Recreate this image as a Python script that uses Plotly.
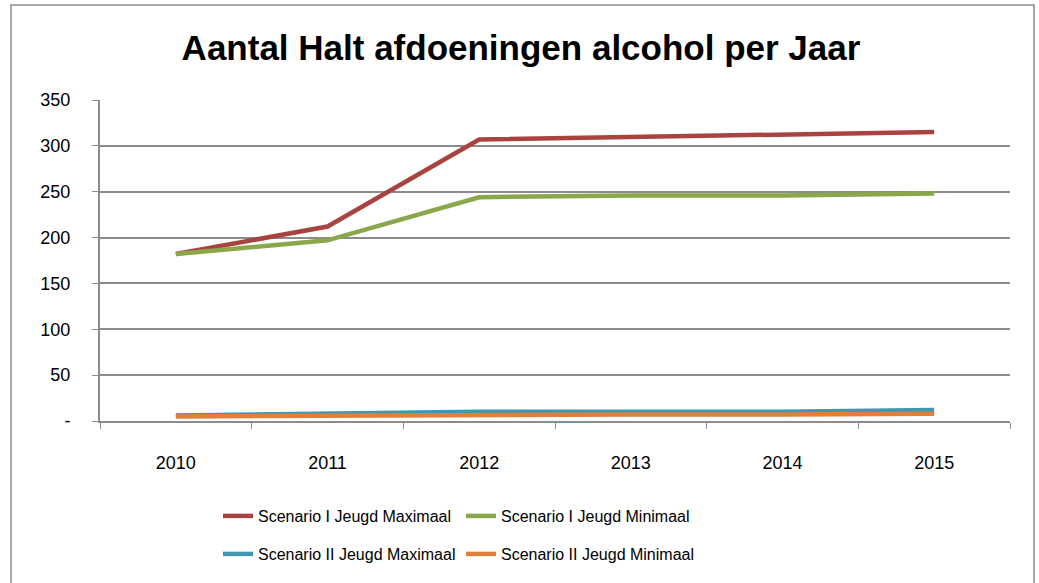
import plotly.graph_objects as go

# Gegevens
jaren = ["2010", "2011", "2012", "2013", "2014", "2015"]
sc1_max = [182, 212, 307, 310, 312, 315]
sc1_min = [182, 197, 244, 246, 246, 248]
sc2_max = [6, 8, 10, 10, 10, 12]
sc2_min = [5, 6, 7, 7, 7, 8]

y_ticks = [0, 50, 100, 150, 200, 250, 300, 350]
y_labels = ["-", "50", "100", "150", "200", "250", "300", "350"]

FONT = "Liberation Sans"
GRIJS = "#8c8c8c"

fig = go.Figure()

series = [
    (sc1_max, "Scenario I Jeugd Maximaal", "#A9433F", "legend"),
    (sc1_min, "Scenario I Jeugd Minimaal", "#8AA74A", "legend"),
    (sc2_max, "Scenario II Jeugd Maximaal", "#3F97B0", "legend2"),
    (sc2_min, "Scenario II Jeugd Minimaal", "#E0803A", "legend2"),
]
for waarden, naam, kleur, leg in series:
    fig.add_trace(go.Scatter(
        x=jaren,
        y=waarden,
        mode="lines",
        name=naam,
        legend=leg,
        line=dict(color=kleur, width=4.5),
    ))

# Rand rond de grafiek
fig.add_shape(
    type="rect", xref="paper", yref="paper",
    x0=(11 - 100) / 910, x1=(1034 - 100) / 910,
    y0=-1, y1=1 + (100 - 5) / 321,
    line=dict(color=GRIJS, width=1.5),
    layer="below",
)

legend_stijl = dict(
    orientation="h",
    xanchor="left",
    yanchor="middle",
    x=(218 - 100) / 910,
    font=dict(family=FONT, size=16, color="#000000"),
    entrywidth=198,
    itemwidth=30,
    bgcolor="rgba(0,0,0,0)",
)

fig.update_layout(
    width=1039,
    height=583,
    margin=dict(l=100, r=29, t=100, b=162, autoexpand=False),
    paper_bgcolor="white",
    plot_bgcolor="white",
    title=dict(
        text="<b>Aantal Halt afdoeningen alcohol per Jaar</b>",
        x=521 / 1039, xref="container", xanchor="center",
        y=1 - 48 / 583, yanchor="middle",
        font=dict(family=FONT, size=35, color="#000000"),
    ),
    legend=dict(legend_stijl, y=-(516 - 421) / 321),
    legend2=dict(legend_stijl, y=-(554 - 421) / 321),
    showlegend=True,
)

fig.update_xaxes(
    type="category",
    range=[-0.5, 5.5],
    showgrid=False,
    showline=True,
    linecolor=GRIJS,
    linewidth=2,
    ticks="outside",
    tickson="boundaries",
    ticklen=6,
    tickcolor=GRIJS,
    tickfont=dict(family=FONT, size=18, color="#000000"),
    ticklabelstandoff=24,
    automargin=False,
)

fig.update_yaxes(
    range=[0, 350],
    tickvals=y_ticks,
    ticktext=y_labels,
    showgrid=True,
    gridcolor=GRIJS,
    gridwidth=1.5,
    showline=True,
    linecolor=GRIJS,
    linewidth=2,
    ticks="outside",
    ticklen=6,
    tickcolor=GRIJS,
    tickfont=dict(family=FONT, size=18, color="#000000"),
    ticklabelstandoff=18,
    zeroline=False,
    automargin=False,
)

fig.write_html(
    "out.html",
    config={"displayModeBar": False},
    post_script="document.body.style.margin='0px';",
)
